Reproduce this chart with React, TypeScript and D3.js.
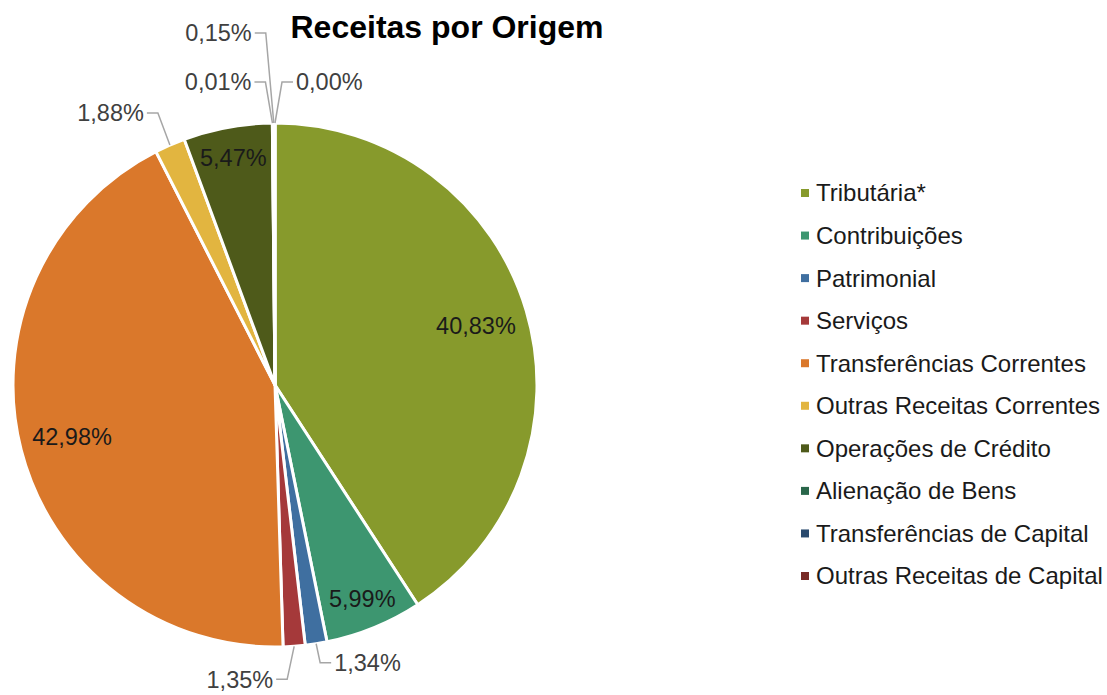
import React from "react";
import * as d3 from "d3";

const categories = [
  "Tributária*",
  "Contribuições",
  "Patrimonial",
  "Serviços",
  "Transferências Correntes",
  "Outras Receitas Correntes",
  "Operações de Crédito",
  "Alienação de Bens",
  "Transferências de Capital",
  "Outras Receitas de Capital",
];
const values = [40.83, 5.99, 1.34, 1.35, 42.98, 1.88, 5.47, 0.01, 0.15, 0.0];
const labels = ["40,83%", "5,99%", "1,34%", "1,35%", "42,98%", "1,88%", "5,47%", "0,01%", "0,15%", "0,00%"];
const colors = [
  "#879A2C",
  "#3D9670",
  "#3F6FA0",
  "#A5393A",
  "#DA782B",
  "#E2B540",
  "#4E5A1A",
  "#29664A",
  "#2A4A6E",
  "#782A26",
];

// leader-line elbow offsets (from slice edge) for outside labels; side = text direction
const outsideLayout: Record<string, { dx: number; dy: number; side: number }> = {
  "Patrimonial": { dx: 4, dy: 19, side: 1 },
  "Serviços": { dx: -7, dy: 33, side: -1 },
  "Outras Receitas Correntes": { dx: -12, dy: -32, side: -1 },
  "Alienação de Bens": { dx: -7, dy: -41, side: -1 },
  "Transferências de Capital": { dx: -8, dy: -90, side: -1 },
  "Outras Receitas de Capital": { dx: 7, dy: -41, side: 1 },
};

const W = 1107;
const H = 695;
const cx = 275;
const cy = 385;
const R = 262;
const FONT = "'Liberation Sans', Arial, sans-serif";

export default function App() {
  const data = categories.map((c, i) => ({ c, v: values[i], l: labels[i], col: colors[i] }));
  const pie = d3.pie<any>().value((d) => d.v).sort(null);
  const arcs = pie(data);
  const arc = d3.arc<any>().innerRadius(0).outerRadius(R);

  const legendY = d3.scaleLinear().domain([0, categories.length - 1]).range([193, 576]);

  return (
    <svg width={W} height={H} style={{ position: "absolute", left: 0, top: 0, background: "#fff" }}>
      <rect width={W} height={H} fill="#fff" />
      <g transform={`translate(${cx},${cy})`}>
        {arcs.map((a, i) => (
          <path key={i} d={arc(a) || ""} fill={a.data.col} stroke="#fff" strokeWidth={3} strokeLinejoin="round" />
        ))}
        {arcs.map((a, i) => {
          const lay = outsideLayout[a.data.c];
          if (lay) {
            const mid = (a.startAngle + a.endAngle) / 2;
            const ax = Math.sin(mid) * R;
            const ay = -Math.cos(mid) * R;
            const ex = ax + lay.dx;
            const ey = ay + lay.dy;
            const hx = ex + lay.side * 11;
            const tx = hx + lay.side * 3;
            return (
              <g key={"o" + i}>
                <polyline
                  points={`${ax},${ay} ${ex},${ey} ${hx},${ey}`}
                  fill="none"
                  stroke="#A6A6A6"
                  strokeWidth={1.5}
                />
                <text
                  x={tx}
                  y={ey}
                  dy="0.35em"
                  textAnchor={lay.side > 0 ? "start" : "end"}
                  fontFamily={FONT}
                  fontSize={23.5}
                  fill="#404040"
                >
                  {a.data.l}
                </text>
              </g>
            );
          }
          const k = a.data.v >= 10 ? 0.8 : 0.88;
          const inner = d3.arc<any>().innerRadius(R * k).outerRadius(R * k);
          const [x, y] = inner.centroid(a);
          return (
            <text
              key={"i" + i}
              x={x}
              y={y}
              dy="0.35em"
              textAnchor="middle"
              fontFamily={FONT}
              fontSize={23.5}
              fill="#1a1a1a"
            >
              {a.data.l}
            </text>
          );
        })}
      </g>
      <text x={447} y={38} textAnchor="middle" fontFamily={FONT} fontWeight="bold" fontSize={32} fill="#000">
        Receitas por Origem
      </text>
      <g>
        {categories.map((c, i) => (
          <g key={c} transform={`translate(801,${legendY(i)})`}>
            <rect x={0} y={-4} width={8} height={8} fill={colors[i]} />
            <text x={15} y={0} dy="0.35em" fontFamily={FONT} fontSize={24} fill="#1a1a1a">
              {c}
            </text>
          </g>
        ))}
      </g>
    </svg>
  );
}
